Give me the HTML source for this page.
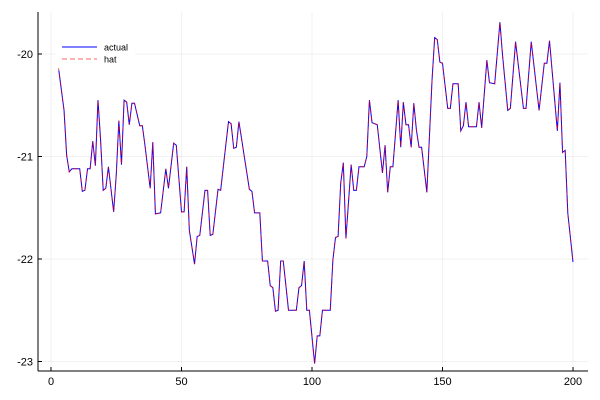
<!DOCTYPE html>
<html><head><meta charset="utf-8"><style>
body{margin:0;background:#fff;}
svg{display:block;font-family:"Liberation Sans",sans-serif;}
</style></head><body>
<svg id="chart" width="600" height="400">
<g id="grid"></g>
<g id="axes"></g>
<g id="series"></g>
<g id="legend">
<rect x="55" y="38" width="80" height="30" fill="#fff"/>
<line x1="62" y1="47" x2="97" y2="47" stroke="#0000ff" stroke-width="1"/>
<text x="104" y="50.5" font-size="9" fill="#000">actual</text>
<line x1="62" y1="59" x2="97" y2="59" stroke="#ff0000" stroke-opacity="0.6" stroke-dasharray="5,3"/>
<text x="104" y="62.5" font-size="9" fill="#000">hat</text>
</g>
</svg>
<script>
const xIdx=[3,5,6,7,8,11,12,13,14,15,16,17,18,19,20,21,22,24,25,26,27,28,29,30,31,32,34,35,36,38,39,40,42,44,45,47,48,50,51,52,53,55,56,57,59,60,61,62,64,65,68,69,70,71,72,76,77,78,80,81,83,84,85,86,87,88,89,91,94,95,96,97,98,99,101,102,103,104,107,108,109,110,111,112,113,115,116,117,118,120,121,122,123,125,127,128,129,130,131,133,134,135,136,137,138,139,140,141,142,144,146,147,148,149,150,152,153,154,156,157,158,159,160,163,164,165,167,168,170,172,173,175,176,178,181,182,184,187,189,190,191,194,195,196,197,198,200];
const actual=[-20.16,-20.55,-20.99,-21.15,-21.12,-21.12,-21.34,-21.33,-21.12,-21.12,-20.85,-21.09,-20.45,-20.84,-21.33,-21.31,-21.10,-21.54,-21.18,-20.65,-21.08,-20.45,-20.47,-20.69,-20.48,-20.48,-20.70,-20.70,-20.89,-21.31,-20.86,-21.56,-21.55,-21.12,-21.31,-20.87,-20.89,-21.54,-21.54,-21.10,-21.72,-22.05,-21.78,-21.77,-21.33,-21.33,-21.77,-21.76,-21.32,-21.33,-20.66,-20.68,-20.92,-20.91,-20.66,-21.32,-21.34,-21.55,-21.55,-22.02,-22.02,-22.26,-22.28,-22.51,-22.50,-22.02,-22.02,-22.50,-22.50,-22.28,-22.26,-22.02,-22.50,-22.50,-23.02,-22.75,-22.75,-22.50,-22.50,-22.01,-21.79,-21.78,-21.26,-21.06,-21.80,-21.08,-21.33,-21.33,-21.10,-21.10,-21.00,-20.45,-20.67,-20.69,-21.16,-20.89,-21.35,-21.10,-21.10,-20.45,-20.91,-20.47,-20.69,-20.69,-20.91,-20.48,-20.74,-20.91,-20.91,-21.35,-20.25,-19.84,-19.86,-20.08,-20.09,-20.53,-20.53,-20.29,-20.29,-20.75,-20.70,-20.47,-20.71,-20.71,-20.47,-20.72,-20.06,-20.28,-20.29,-19.69,-20.01,-20.55,-20.53,-19.88,-20.53,-20.53,-19.88,-20.55,-20.09,-20.09,-19.87,-20.75,-20.28,-20.96,-20.94,-21.55,-22.03];
const hatStartX=[2];
const hatStartY=[-19.88];
const xTicks=[0,50,100,150,200];
const yTicks=[-20,-21,-22,-23];
const NS="http://www.w3.org/2000/svg";
const X=v=>51+(v-0)*2.61;
const Y=v=>54+(-20-v)*102.5;
function mk(tag,attrs,parent){const e=document.createElementNS(NS,tag);for(const k in attrs)e.setAttribute(k,attrs[k]);parent.appendChild(e);return e;}
const grid=document.getElementById('grid'),axes=document.getElementById('axes'),series=document.getElementById('series');
xTicks.forEach(t=>{
  const g=mk('line',{x1:X(t),x2:X(t),y1:12,y2:371,stroke:'#000','stroke-opacity':0.1,'stroke-width':0.5},grid);
  
  
  const tk=mk('line',{x1:X(t),x2:X(t),y1:371,y2:367,stroke:'#000','stroke-width':1},axes);
  
  
  const tx=mk('text',{x:X(t),y:385,'font-size':11,'text-anchor':'middle',fill:'#000'},axes);
  tx.textContent=t;
  
  
});
yTicks.forEach(t=>{
  const g=mk('line',{x1:38,x2:588,y1:Y(t),y2:Y(t),stroke:'#000','stroke-opacity':0.1,'stroke-width':0.5},grid);
  
  
  const tk=mk('line',{x1:38,x2:42,y1:Y(t),y2:Y(t),stroke:'#000','stroke-width':1},axes);
  
  
  const tx=mk('text',{x:33,y:Y(t)+4,'font-size':11,'text-anchor':'end',fill:'#000'},axes);
  tx.textContent=t;
  
  
});
const ax1=mk('line',{x1:38,x2:38,y1:12,y2:371,stroke:'#000','stroke-width':1},axes);


const ax2=mk('line',{x1:38,x2:588,y1:371,y2:371,stroke:'#000','stroke-width':1},axes);


const ptsA=xIdx.map((x,i)=>X(x)+','+Y(actual[i])).join(' ');
const la=mk('polyline',{points:ptsA,fill:'none',stroke:'#0000ff','stroke-width':1},series);


const ptsH=hatStartX.map((x,i)=>X(x)+','+Y(hatStartY[i])).concat(xIdx.map((x,i)=>X(x)+','+Y(actual[i]))).join(' ');
const lh=mk('polyline',{points:ptsH,fill:'none',stroke:'#ff0000','stroke-opacity':0.6,'stroke-width':1,'stroke-dasharray':'5,3'},series);


</script>
</body></html>
